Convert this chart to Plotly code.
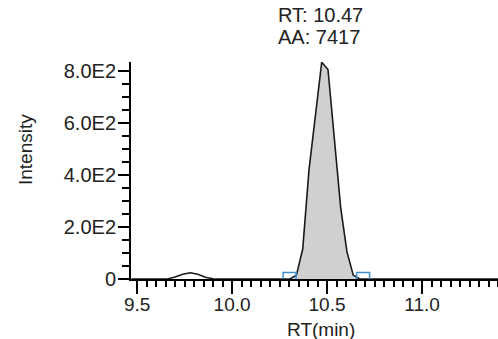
import plotly.graph_objects as go

# Chromatogram data
rt = [9.47, 9.60, 9.66, 9.70, 9.74, 9.78, 9.82, 9.86, 9.90, 9.94, 10.00, 10.20, 10.305,
      10.339, 10.372, 10.405, 10.438, 10.472, 10.505, 10.538, 10.572, 10.605, 10.638,
      10.672, 10.80, 11.0, 11.4]
intensity = [0, 0, 0, 8, 18, 24, 18, 7, 1, 0, 0, 0, 0,
             15, 115, 419, 620, 832, 804, 527, 273, 104, 15,
             0, 0, 0, 0]

# Integrated peak region
peak_start, peak_end = 10.303, 10.69
peak_rt = [x for x in rt if peak_start <= x <= peak_end]
peak_int = [y for x, y in zip(rt, intensity) if peak_start <= x <= peak_end]

# Baseline markers
marker_rt = [10.303, 10.69]
marker_int = [0, 0]

# Ticks
x_ticks = [9.5, 10.0, 10.5, 11.0]
x_ticktext = ["9.5", "10.0", "10.5", "11.0"]
y_ticks = [0, 200, 400, 600, 800]
y_ticktext = ["0", "2.0E2", "4.0E2", "6.0E2", "8.0E2"]

label_rt = "RT: 10.47"
label_aa = "AA: 7417"

FONT = "Liberation Sans, Arial, sans-serif"
TXT = "#222222"

fig = go.Figure()
fig.add_trace(go.Scatter(x=peak_rt, y=peak_int, mode="lines", fill="tozeroy",
                         fillcolor="#d0d0d0", line=dict(width=0, color="rgba(0,0,0,0)"),
                         hoverinfo="skip", showlegend=False))
fig.add_trace(go.Scatter(x=rt, y=intensity, mode="lines",
                         line=dict(color="#1a1a1a", width=1.6), showlegend=False))
fig.add_trace(go.Scatter(x=marker_rt, y=marker_int, mode="markers",
                         marker=dict(symbol="square-open", size=13, color="#3f8fd2",
                                     line=dict(width=1.5, color="#3f8fd2")),
                         showlegend=False))

fig.update_layout(
    width=498, height=339,
    margin=dict(l=131, r=0, t=62, b=60),
    paper_bgcolor="white", plot_bgcolor="white",
    font=dict(family=FONT, size=19, color=TXT),
    showlegend=False,
)
fig.update_xaxes(
    range=[9.468, 11.4], showgrid=False, zeroline=False,
    showline=True, linecolor="black", linewidth=2,
    tickmode="array", tickvals=x_ticks, ticktext=x_ticktext,
    ticks="outside", ticklen=13, tickwidth=1.5, tickcolor="black",
    ticklabelstandoff=-6,
    tickfont=dict(family=FONT, size=19, color=TXT),
    minor=dict(dtick=0.05, tick0=9.5, ticks="outside", ticklen=6, tickwidth=1.5,
               tickcolor="black", showgrid=False),
)
fig.update_yaxes(
    range=[0, 833], showgrid=False, zeroline=False,
    showline=True, linecolor="black", linewidth=2,
    tickmode="array", tickvals=y_ticks, ticktext=y_ticktext,
    ticks="outside", ticklen=11, tickwidth=1.5, tickcolor="black",
    ticklabelstandoff=-2,
    tickfont=dict(family=FONT, size=20, color=TXT),
    minor=dict(dtick=50, tick0=0, ticks="outside", ticklen=7, tickwidth=1.5,
               tickcolor="black", showgrid=False),
)

fig.add_annotation(x=10.232, xref="x", y=1.2166, yref="paper", text=label_rt,
                   showarrow=False, xanchor="left", yanchor="middle",
                   font=dict(family=FONT, size=20, color=TXT))
fig.add_annotation(x=10.232, xref="x", y=1.115, yref="paper", text=label_aa,
                   showarrow=False, xanchor="left", yanchor="middle",
                   font=dict(family=FONT, size=20, color=TXT))
fig.add_annotation(x=(25 - 131) / 367, xref="paper", y=(279 - 150) / 217, yref="paper",
                   text="Intensity", textangle=-90, showarrow=False,
                   xanchor="center", yanchor="middle",
                   font=dict(family=FONT, size=19, color=TXT))
fig.add_annotation(x=(320.5 - 131) / 367, xref="paper", y=(279 - 329) / 217, yref="paper",
                   text="RT(min)", showarrow=False, xanchor="center", yanchor="middle",
                   font=dict(family=FONT, size=19, color=TXT))

fig.write_html("out.html", config={"displayModeBar": False},
               post_script="document.body.style.margin='0';document.body.style.overflow='hidden';")
